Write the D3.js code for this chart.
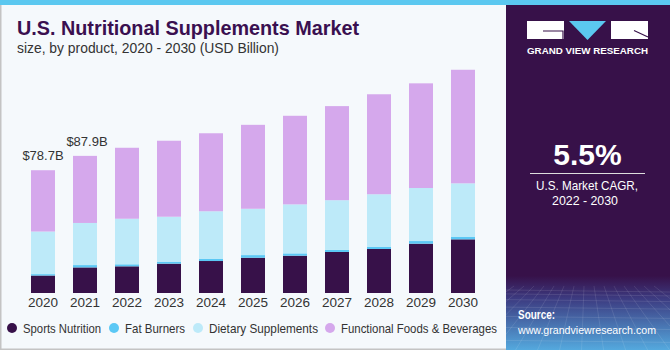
<!DOCTYPE html>
<html>
<head>
<meta charset="utf-8">
<script src="https://cdn.jsdelivr.net/npm/d3@7"></script>
<style>
  body { margin: 0; background: #fff; }
  svg { display: block; font-family: "Liberation Sans", Arial, sans-serif; }
</style>
</head>
<body>
<script>
const years = ["2020","2021","2022","2023","2024","2025","2026","2027","2028","2029","2030"];
const sportsNutrition = [11.2, 16.4, 17.1, 18.8, 20.5, 22.6, 23.9, 26.3, 28.2, 31.6, 34.4];
const fatBurners = [0.9, 1.5, 1.3, 1.3, 1.3, 1.7, 1.5, 1.3, 1.3, 1.7, 1.5];
const dietarySupplements = [27.3, 27.0, 29.2, 28.8, 30.6, 29.7, 31.4, 31.9, 33.8, 34.0, 34.4];
const functionalFoods = [39.3, 43.0, 45.5, 48.7, 50.0, 53.8, 56.8, 60.3, 64.1, 67.1, 72.8];
const seriesNames = ["Sports Nutrition", "Fat Burners", "Dietary Supplements", "Functional Foods & Beverages"];
const totalLabels = ["$78.7B", "$87.9B"];

const W = 670, H = 350;
const colors = ["#371149", "#5bc8f5", "#bdeaf9", "#d5a8ec"];

const svg = d3.select("body").append("svg")
    .attr("width", W)
    .attr("height", H);

// backgrounds
svg.append("rect").attr("width", W).attr("height", H).attr("fill", "#f5f9fc");
svg.append("rect").attr("x", 0).attr("y", 0).attr("width", W).attr("height", 5).attr("fill", "#5bc8f0");
svg.append("rect").attr("x", 0).attr("y", 5).attr("width", 1.5).attr("height", H - 5).attr("fill", "#c4c4c4");
svg.append("rect").attr("x", 0).attr("y", H - 1.5).attr("width", W).attr("height", 1.5).attr("fill", "#c4c4c4");

// title
svg.append("text")
    .attr("x", 17).attr("y", 35)
    .attr("font-size", 20.5).attr("font-weight", "bold")
    .attr("textLength", 342).attr("lengthAdjust", "spacingAndGlyphs")
    .attr("fill", "#3a1050")
    .text("U.S. Nutritional Supplements Market");
svg.append("text")
    .attr("x", 17).attr("y", 53)
    .attr("font-size", 14.5)
    .attr("textLength", 262).attr("lengthAdjust", "spacingAndGlyphs")
    .attr("fill", "#333")
    .text("size, by product, 2020 - 2030 (USD Billion)");

// data
const table = years.map((y, i) => ({
    year: y,
    s0: sportsNutrition[i],
    s1: fatBurners[i],
    s2: dietarySupplements[i],
    s3: functionalFoods[i]
}));
const stack = d3.stack().keys(["s0", "s1", "s2", "s3"])(table);

const x = d3.scaleBand()
    .domain(years)
    .range([22, 484])
    .paddingInner(18 / 42)
    .paddingOuter(9 / 42);

const yScale = d3.scaleLinear()
    .domain([0, 150])
    .range([293, 293 - 150 * 1.56]);

const g = svg.append("g");
g.selectAll("g.layer")
    .data(stack)
    .enter().append("g")
    .attr("class", "layer")
    .attr("fill", (d, i) => colors[i])
    .selectAll("rect")
    .data(d => d)
    .enter().append("rect")
    .attr("x", d => x(d.data.year))
    .attr("width", x.bandwidth())
    .attr("y", d => yScale(d[1]))
    .attr("height", d => yScale(d[0]) - yScale(d[1]));

// x axis
const xAxis = svg.append("g")
    .attr("transform", "translate(0,293)")
    .call(d3.axisBottom(x).tickSize(0).tickPadding(4));
xAxis.select(".domain").remove();
xAxis.selectAll("text")
    .attr("font-size", 13.5)
    .attr("font-family", "Liberation Sans, Arial, sans-serif")
    .attr("fill", "#333");

// total labels
totalLabels.forEach((lab, i) => {
    const top = yScale(stack[3][i][1]);
    svg.append("text")
        .attr("x", x(years[i]) + x.bandwidth() / 2 + (i ? 2 : 0))
        .attr("y", top - 10)
        .attr("text-anchor", "middle")
        .attr("font-size", 13)
        .attr("fill", "#333")
        .text(lab);
});

// legend
const legendX = [12, 114, 198, 330];
const legendW = [78, 60, 109, 156];
seriesNames.forEach((name, i) => {
    svg.append("circle")
        .attr("cx", legendX[i]).attr("cy", 328)
        .attr("r", 5)
        .attr("fill", colors[i]);
    svg.append("text")
        .attr("x", legendX[i] + 11).attr("y", 332.5)
        .attr("font-size", 13)
        .attr("textLength", legendW[i]).attr("lengthAdjust", "spacingAndGlyphs")
        .attr("fill", "#333")
        .text(name);
});

// right panel
const px = 506;
svg.append("rect").attr("x", px).attr("y", 5).attr("width", W - px).attr("height", H - 5).attr("fill", "#371149");

const defs = svg.append("defs");
const grad = defs.append("linearGradient").attr("id", "srcGrad")
    .attr("x1", 0).attr("y1", 0).attr("x2", 0).attr("y2", 1);
grad.append("stop").attr("offset", "0%").attr("stop-color", "#371149");
grad.append("stop").attr("offset", "30%").attr("stop-color", "#3c3a80");
grad.append("stop").attr("offset", "100%").attr("stop-color", "#54a9de");
svg.append("rect").attr("x", px).attr("y", 276).attr("width", W - px).attr("height", H - 276).attr("fill", "url(#srcGrad)");

defs.append("clipPath").attr("id", "panelClip")
    .append("rect").attr("x", px).attr("y", 276).attr("width", W - px).attr("height", H - 276);

// faint perspective grid
const grid = svg.append("g").attr("clip-path", "url(#panelClip)")
    .attr("stroke", "#ffffff").attr("stroke-opacity", 0.13).attr("stroke-width", 0.8).attr("fill", "none");
for (let k = 0; k < 9; k++) {
    const yy = 290 + k * k * 0.9 + k * 3;
    grid.append("line").attr("x1", px).attr("x2", W).attr("y1", yy).attr("y2", yy + 2);
}
for (let k = -8; k <= 14; k++) {
    const xt = px + 8 + k * 10;
    grid.append("line").attr("x1", xt).attr("y1", 286).attr("x2", px + 80 + (xt - px - 80) * 2.2).attr("y2", H);
}

// logo
svg.append("rect").attr("x", 527).attr("y", 21).attr("width", 37).attr("height", 18).attr("fill", "#fff");
svg.append("polyline").attr("points", "543,31 563,31 563,39").attr("fill", "none").attr("stroke", "#371149").attr("stroke-width", 1.2);
svg.append("polygon").attr("points", "569,21 606,21 587.5,40").attr("fill", "#5bc8f0");
svg.append("rect").attr("x", 611).attr("y", 21).attr("width", 37).attr("height", 18).attr("fill", "#fff");
svg.append("line").attr("x1", 634).attr("y1", 30.5).attr("x2", 648).attr("y2", 37).attr("stroke", "#371149").attr("stroke-width", 1.2);
svg.append("text")
    .attr("x", 527).attr("y", 54)
    .attr("font-size", 9.5).attr("font-weight", "bold")
    .attr("textLength", 121).attr("lengthAdjust", "spacingAndGlyphs")
    .attr("fill", "#fff")
    .text("GRAND VIEW RESEARCH");

// CAGR
svg.append("text")
    .attr("x", 587.5).attr("y", 165)
    .attr("text-anchor", "middle")
    .attr("font-size", 30).attr("font-weight", "bold")
    .attr("fill", "#fff")
    .text("5.5%");
svg.append("line").attr("x1", 530).attr("x2", 645).attr("y1", 173.5).attr("y2", 173.5)
    .attr("stroke", "#ddd").attr("stroke-width", 1);
svg.append("text")
    .attr("x", 536).attr("y", 190)
    .attr("font-size", 13.5)
    .attr("textLength", 102).attr("lengthAdjust", "spacingAndGlyphs")
    .attr("fill", "#fff")
    .text("U.S. Market CAGR,");
svg.append("text")
    .attr("x", 552).attr("y", 205)
    .attr("font-size", 13.5)
    .attr("textLength", 66).attr("lengthAdjust", "spacingAndGlyphs")
    .attr("fill", "#fff")
    .text("2022 - 2030");

// source
svg.append("text")
    .attr("x", 518).attr("y", 319)
    .attr("font-size", 12.5).attr("font-weight", "bold")
    .attr("textLength", 37).attr("lengthAdjust", "spacingAndGlyphs")
    .attr("fill", "#fff")
    .text("Source:");
svg.append("text")
    .attr("x", 518).attr("y", 334)
    .attr("font-size", 11.2)
    .attr("textLength", 138).attr("lengthAdjust", "spacingAndGlyphs")
    .attr("fill", "#fff")
    .text("www.grandviewresearch.com");
</script>
</body>
</html>
